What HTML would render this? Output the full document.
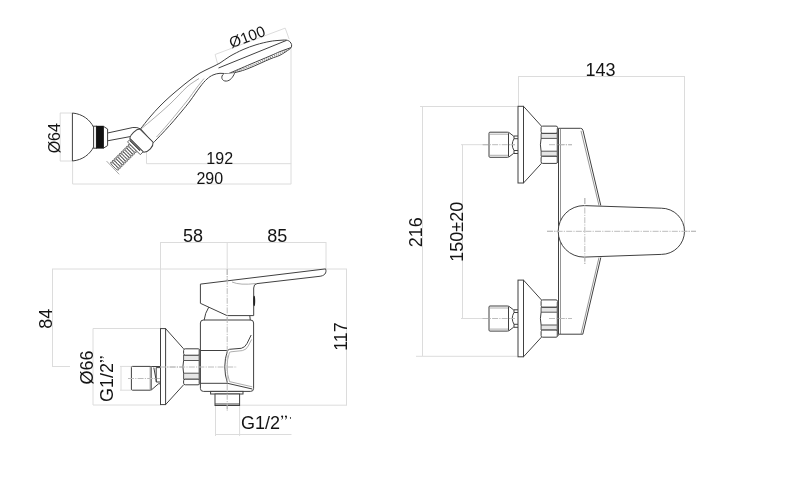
<!DOCTYPE html>
<html><head><meta charset="utf-8">
<style>
html,body{margin:0;padding:0;background:#fff;width:796px;height:500px;overflow:hidden}
svg{display:block;filter:grayscale(1) blur(0.35px)}
text{font-family:"Liberation Sans",sans-serif;fill:#141414}
.d{stroke:#dcdcdc;stroke-width:1;fill:none}
.c{stroke:#bcbcbc;stroke-width:1;fill:none;stroke-dasharray:6 1.2 1.2 1.2}
.m{stroke:#404040;stroke-width:1;fill:none}
.mw{stroke:#404040;stroke-width:1;fill:#fff}
.l{stroke:#999;stroke-width:0.8;fill:none}
.l2{stroke:#8a8a8a;stroke-width:0.9;fill:none}
.hc{stroke:#444;stroke-width:0.7;fill:none}
</style></head><body>
<svg width="796" height="500" viewBox="0 0 796 500">
<!-- ============ FRONT VIEW (right) ============ -->
<g>
<!-- dimension lines -->
<path class="d" d="M518.5,76.5H684.5M518.5,76V106M684.5,76V231.5"/>
<path class="d" d="M422.5,106.5V356M420,106.5H517.5M416,356.3H517.5"/>
<path class="d" d="M462.5,144.7V318.5M461,144.7H483M461,318.5H483"/>
<path class="c" d="M483,144.7H515M549,144.7H572M483,318.5H515M549,318.5H572"/>
<path class="c" d="M547,231.3H696M584.8,198V265"/>
<text x="600.5" y="76" font-size="18" text-anchor="middle">143</text>
<text transform="translate(422.3,232.2) rotate(-90)" font-size="18" text-anchor="middle">216</text>
<text transform="translate(463,231.8) rotate(-90)" font-size="18" text-anchor="middle">150±20</text>
</g>
<g id="unit">
<rect class="mw" x="489" y="132.2" width="19.5" height="25.1" rx="1"/>
<path class="l" d="M489.5,134.2H508M489.5,155.3H508"/>
<path class="m" d="M508.5,132.2L513.5,136H518M508.5,157.3L513.5,153.5H518M514,136V138.7H518M514,153.5V150.5H518M514,138.7Q510.5,144.6 514,150.5"/>
<rect class="mw" x="518" y="106.3" width="5.5" height="76.7"/>
<path class="m" d="M523.5,106.3L541.5,126.2M523.5,183L541.5,163.3"/>
<rect x="541.1" y="133.2" width="16.5" height="23.6" fill="#fff"/>
<path d="M541.1,133.5H557.6V138.4H541.1ZM541.1,151.2H557.6V156.2H541.1Z" fill="#e6e6e6" stroke="#444" stroke-width="0.9"/>
<path class="m" d="M541.1,138.4Q539.7,144.8 541.1,151.2M557.6,138.4Q559,144.8 557.6,151.2"/>
<rect class="mw" x="541.1" y="126.1" width="16.5" height="7.2" rx="1.6"/>
<rect class="mw" x="541.1" y="156.3" width="16.5" height="7.1" rx="1.6"/>
<rect x="556.7" y="128.4" width="2" height="33.8" fill="#6a6a6a"/>
</g>
<use href="#unit" transform="translate(0,173.8)"/>
<path class="m" d="M558.5,334.2V128.3H580.5Q582.5,128.3 583,130.5L600.8,205.5"/><path class="l2" d="M560.5,334V128.8M581,130.8L599,205.5"/>
<path class="m" d="M600.8,257.5L582.8,334.2H558.5"/><path class="l2" d="M599,257.5L581,334"/>
<path class="mw" d="M584,205.6L661.3,208.2A23.2,23.1 0 0 1 661.3,254.4L584,257.1A25.8,25.75 0 0 1 584,205.6Z"/>
<path class="c" d="M547,231.3H696M584.8,198V265"/>
<path class="c" d="M482.5,144.7H515M549,144.7H572M482.5,318.5H515M549,318.5H572"/>

<!-- ============ SIDE VIEW (bottom-left) ============ -->
<g>
<path class="d" d="M160.5,242.5H326M160.5,242V328.6M326,242V269M227.2,242V269"/>
<path class="c" d="M227.2,269V411"/>
<path class="d" d="M52.5,269V366.5M52,269H347M52,366.5H70"/>
<path class="d" d="M346.5,269V405.2M240,405.2H347"/>
<path class="d" d="M93,328.5V405M93,328.5H160.5M93,405H160.5"/>
<path class="d" d="M121,366.4V390.2M120,366.4H131M120,390.2H131"/>
<path class="d" d="M215.5,434.5H291.5M215.5,405V436M239.6,405V436"/>
<path class="c" d="M160,367H237M128,378.5H160"/>
<text x="193" y="241.5" font-size="18" text-anchor="middle">58</text>
<text x="277.3" y="241.5" font-size="18" text-anchor="middle">85</text>
<text transform="translate(52.3,318.8) rotate(-90)" font-size="18" text-anchor="middle">84</text>
<text transform="translate(346.8,336.5) rotate(-90)" font-size="18" text-anchor="middle">117</text>
<text transform="translate(93,367.5) rotate(-90)" font-size="18" text-anchor="middle">Ø66</text>
<text transform="translate(112.9,379.5) rotate(-90)" font-size="18" x="-22.5">G1/2</text><g transform="translate(112.9,379.5) rotate(-90) translate(16.5,0)"><path d="M0.8,-11.9A1.05,1.05 0 1 1 2.9,-11.9Q2.9,-9.6 1.2,-8.8L1,-9.2Q2,-9.9 1.9,-10.9A1.05,1.05 0 0 1 0.8,-11.9ZM4.6,-11.9A1.05,1.05 0 1 1 6.7,-11.9Q6.7,-9.6 5,-8.8L4.8,-9.2Q5.8,-9.9 5.7,-10.9A1.05,1.05 0 0 1 4.6,-11.9Z" fill="#141414"/></g>
<text x="241" y="428.5" font-size="18">G1/2</text><g transform="translate(280.3,428.5)"><path d="M0.8,-11.9A1.05,1.05 0 1 1 2.9,-11.9Q2.9,-9.6 1.2,-8.8L1,-9.2Q2,-9.9 1.9,-10.9A1.05,1.05 0 0 1 0.8,-11.9ZM4.6,-11.9A1.05,1.05 0 1 1 6.7,-11.9Q6.7,-9.6 5,-8.8L4.8,-9.2Q5.8,-9.9 5.7,-10.9A1.05,1.05 0 0 1 4.6,-11.9Z" fill="#141414"/></g>
<text x="289.5" y="423" font-size="9" fill="#777">'</text>
</g>
<g>
<rect class="mw" x="131.4" y="366.4" width="19.8" height="23.8" rx="1"/>
<path class="m" d="M151.2,366.5H160.5M153.8,367.6L156.5,382M156.2,367.6H160.5V382H156.2V367.6M151.2,390.1L158.5,383.8H160.5"/><path class="l2" d="M150.2,367V389.6"/>
<rect class="mw" x="160.5" y="328.6" width="5.1" height="76"/>
<path class="m" d="M165.6,328.6L183.6,348.8M165.6,404.6L183.6,384.8"/>
<rect x="183.6" y="354.8" width="16.1" height="24.8" fill="#fff"/>
<path d="M183.6,355H199.7V360.5H183.6ZM183.6,373.2H199.7V379.3H183.6Z" fill="#e6e6e6" stroke="#444" stroke-width="0.9"/>
<path class="m" d="M183.6,360.5Q182.2,366.8 183.6,373.2M199.7,360.5Q201.1,366.8 199.7,373.2"/>
<rect class="mw" x="183.6" y="348.8" width="16.1" height="6.4" rx="1.6"/>
<rect class="mw" x="183.6" y="379.2" width="16.1" height="5.6" rx="1.6"/>
<rect x="198.6" y="350" width="2" height="33.8" fill="#6a6a6a"/>
<rect class="mw" x="200.4" y="320" width="53.2" height="71.4" rx="3"/>
<path class="m" d="M200.4,350.5H227.5M200.4,383.3H227.5"/>
<path class="m" d="M227.5,350.5Q222,366.8 227.5,383.3L252.3,389M227.5,350.5L229.5,349.3L241.3,348.3Q245,347.5 247,343.5L251.2,335"/>
<path class="l" d="M229.5,352.3Q224.6,366.8 229.5,381.6L252.3,386.8M229.5,352.3L231,351.8L242.4,350.6Q246.5,349.8 248.2,346L251.6,339.5"/>
<rect class="mw" x="210.6" y="391.4" width="32.4" height="2.6"/>
<rect class="mw" x="215" y="394" width="24.6" height="11.5"/>
<path class="m" d="M215,404H239.6"/>
<path class="mw" d="M200.4,284.1L325.6,268.9C327,273 324.5,276 319,276.4L257,283.6Q253.7,284 253.7,288V315.6H227L200.4,303.3Z"/>
<path class="m" d="M208.8,307.1Q205,313 204.1,320.3M249.8,315.6L250.3,320.3"/>
<ellipse cx="254.2" cy="301" rx="1" ry="5.2" fill="#222"/>
<path class="l" d="M232,282Q240,285.5 256,283.5"/>
<path class="c" d="M227.2,269V411"/>
<path class="c" d="M160,367H237M128,378.5H160"/>
</g>

<!-- ============ HAND SHOWER (top-left) ============ -->
<g>
<path class="d" d="M60.2,113V161M60,113H72.4M60,161H72.4"/>
<path class="d" d="M72.6,161V184M72.6,184H291.2M291,47.6V184"/>
<path class="d" d="M146.5,139.4V163.7H291.2"/>
<path class="d" d="M215.1,54.5L285.2,28.1M215.1,54.5L218.3,66.5M285.2,28.1L289.2,39.2"/>
<text x="219.7" y="163.5" font-size="16" text-anchor="middle">192</text>
<text x="209.8" y="184.3" font-size="16" text-anchor="middle">290</text>
<text transform="translate(59.5,138.2) rotate(-90)" font-size="16" text-anchor="middle">Ø64</text>
<text transform="translate(249,41.8) rotate(-20.5)" font-size="15.2" text-anchor="middle">Ø100</text>
</g>
<g>
<path class="mw" d="M72.4,113C83,114 90,120 93.6,127.2V147C90,154 83,160 72.4,161Z"/>
<path class="mw" d="M103.4,126.3L107.6,129V145.6L103.4,148.2Z"/>
<rect class="mw" x="93.6" y="126.2" width="2.8" height="22"/>
<rect x="96.2" y="125.8" width="7.4" height="22.8" fill="#111"/>
<path class="m" d="M107.6,133L132.9,127.5Q137,127 140.6,128.9M107.6,140.8L130.1,136.6"/>
<!-- hose -->
<g transform="translate(141.7,140.5) rotate(45)">
<g fill="#fff" stroke="#3a3a3a" stroke-width="0.75"><ellipse cx="-1" cy="12.3" rx="5.5" ry="1.1"/><ellipse cx="-1" cy="14.8" rx="5.5" ry="1.1"/><ellipse cx="-1" cy="17.3" rx="5.5" ry="1.1"/><ellipse cx="-1" cy="19.8" rx="5.5" ry="1.1"/><ellipse cx="-1" cy="22.3" rx="5.5" ry="1.1"/><ellipse cx="-1" cy="24.8" rx="5.5" ry="1.1"/><ellipse cx="-1" cy="27.3" rx="5.5" ry="1.1"/><ellipse cx="-1" cy="29.8" rx="5.5" ry="1.1"/><ellipse cx="-1" cy="32.3" rx="5.5" ry="1.1"/><ellipse cx="-1" cy="34.8" rx="5.5" ry="1.1"/><ellipse cx="-1" cy="37.3" rx="5.5" ry="1.1"/></g>
<path class="l" d="M-10.3,39.4L8,39.8"/>
<rect x="-9" y="6.8" width="18" height="4.2" fill="#fff" stroke="#444" stroke-width="0.8"/>
<path d="M-8.5,8.3H6" stroke="#222" stroke-width="1.1"/>
</g>
<!-- handle -->
<path class="mw" d="M140.6,128.8C142.2,126.8 146.8,120.8 150.0,117.0C153.2,113.2 156.7,109.4 160.0,106.0C163.3,102.6 166.7,99.5 170.0,96.5C173.3,93.5 176.7,90.8 180.0,88.0C183.3,85.2 186.7,82.5 190.0,80.0C193.3,77.5 196.7,75.0 200.0,73.0C203.3,71.0 206.7,69.7 210.0,68.0C213.3,66.3 216.7,65.0 220.0,63.0C223.3,61.0 226.2,58.4 230.0,56.2C233.8,54.0 238.7,51.5 243.0,49.6C247.3,47.7 251.5,46.2 256.0,44.8C260.5,43.4 266.2,42.1 270.0,41.4C273.8,40.7 276.3,40.6 279.0,40.4C281.7,40.2 284.4,39.9 286.2,40.1C288.0,40.3 288.9,40.9 289.8,41.6C290.7,42.4 291.4,43.7 291.6,44.6C291.9,45.5 291.4,46.8 291.3,47.3C290.9,47.6 291.1,48.1 289.2,49.4C287.3,50.7 283.2,53.6 280.0,55.2C276.8,56.8 275.0,56.9 270.0,59.0C265.0,61.1 255.0,65.8 250.0,67.8C245.0,69.8 243.5,70.3 240.0,71.3C236.5,72.3 232.3,73.3 229.0,73.6C225.7,73.9 222.7,73.1 220.0,73.3C217.3,73.5 215.2,74.0 213.0,75.0C210.8,76.0 209.2,77.0 207.0,79.0C204.8,81.0 202.8,83.3 200.0,87.0C197.2,90.7 193.0,97.0 190.0,101.0C187.0,105.0 184.7,107.8 182.0,111.0C179.3,114.2 176.8,117.2 174.0,120.5C171.2,123.8 168.0,127.2 165.0,130.5C162.0,133.8 158.0,137.9 156.0,140.0C154.0,142.1 153.7,142.4 153.2,142.9Z"/>
<path class="m" d="M218.5,68L286.5,40.4"/>
<path d="M287.0,49.8C285.8,50.4 282.8,52.1 280.0,53.4C277.2,54.7 275.0,55.5 270.0,57.6C265.0,59.7 256.0,63.8 250.0,66.2C244.0,68.6 236.7,70.9 234.0,71.8" stroke="#777" stroke-width="1" fill="none" stroke-dasharray="1.2 1"/>
<path class="m" d="M291.0,47.6C289.2,48.3 283.5,50.2 280.0,51.6C276.5,53.0 275.0,53.9 270.0,56.0C265.0,58.1 256.8,61.5 250.0,64.4C243.2,67.3 232.5,71.9 229.0,73.4"/>
<path class="l" d="M141.0,129.0C142.5,127.8 146.8,124.2 150.0,121.5C153.2,118.8 156.7,115.9 160.0,113.0C163.3,110.1 167.0,106.8 170.0,104.0C173.0,101.2 175.0,99.0 178.0,96.0C181.0,93.0 184.5,88.9 188.0,86.0C191.5,83.1 197.2,79.8 199.0,78.5M156.5,137.0C157.9,135.4 162.3,130.6 165.0,127.5C167.7,124.4 170.5,121.0 172.8,118.3C175.1,115.5 176.2,114.2 178.8,111.0C181.4,107.8 185.6,102.8 188.5,99.0C191.4,95.2 193.9,91.4 196.5,88.0C199.1,84.6 202.8,80.1 204.0,78.5"/>
<path class="mw" d="M223.8,73.8C220.3,76.3 221.6,81.3 226.3,81.1C230.3,80.8 232.8,77.3 234.6,73.2"/>
<path class="mw" transform="translate(141.7,140.5) rotate(45)" d="M-9.3,-6.8L9.3,-6.8C12.8,-4 13,3.5 9.8,6.8L-10,6.8C-12.2,4 -12.2,-4 -9.3,-6.8Z"/>
</g>
</svg>
</body></html>
